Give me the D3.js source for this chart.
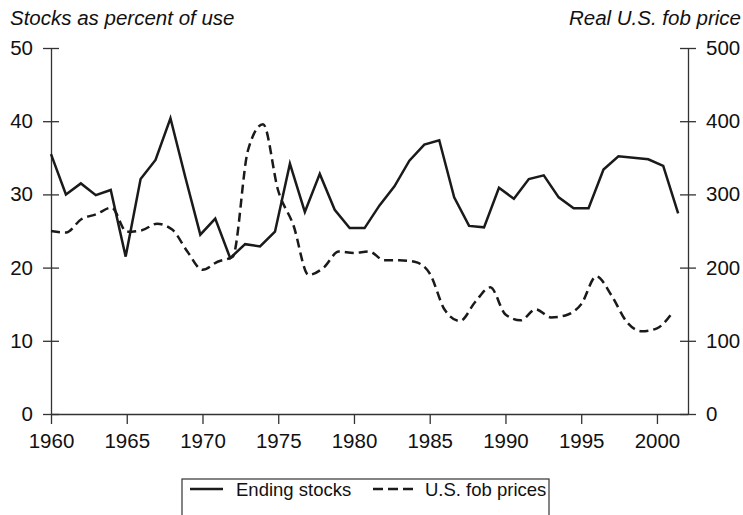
<!DOCTYPE html>
<meta charset="utf-8">
<script src="https://d3js.org/d3.v7.min.js"></script>
<style>
  body { margin: 0; background: #fff; }
  svg { font-family: "Liberation Sans", Arial, Helvetica, sans-serif; }
</style>
<div id="chart"></div>
<script>
// stocks as percent of use, one value per marketing year (43 points, left axis)
var stocks = [35.5, 30.0, 31.5, 29.9, 30.6, 21.5, 32.1, 34.7, 40.4, 32.3,
              24.5, 26.7, 21.3, 23.2, 22.9, 24.9, 34.2, 27.6, 32.8, 27.9,
              25.4, 25.4, 28.5, 31.1, 34.6, 36.8, 37.4, 29.6, 25.7, 25.5,
              30.9, 29.4, 32.1, 32.6, 29.6, 28.1, 28.1, 33.4, 35.2, 35.0,
              34.8, 33.9, 27.4];

// real U.S. fob price by calendar year (right axis)
var priceYears = [1960, 1961, 1962, 1963, 1964, 1965, 1966, 1967, 1968, 1969,
                  1970, 1971, 1972, 1973, 1974, 1975, 1976, 1977, 1978, 1979,
                  1980, 1981, 1982, 1983, 1984, 1985, 1986, 1987, 1988, 1989,
                  1990, 1991, 1992, 1993, 1994, 1995, 1996, 1997, 1998, 1999,
                  2000, 2001];
var prices = [250, 248, 266, 273, 282, 249, 251, 260, 252, 222,
              197, 208, 215, 360, 396, 305, 258, 190, 200, 222,
              220, 222, 210, 210, 208, 192, 142, 127, 153, 173,
              136, 128, 143, 132, 135, 150, 188, 162, 126, 113,
              117, 138];

var xTicks = [1960, 1965, 1970, 1975, 1980, 1985, 1990, 1995, 2000];
var leftTicks = [0, 10, 20, 30, 40, 50];
var rightTicks = [0, 100, 200, 300, 400, 500];

var W = 743, H = 515;
var margin = {top: 48, right: 55, bottom: 101, left: 51};
var width = W - margin.left - margin.right,
    height = H - margin.top - margin.bottom;

var svg = d3.select("#chart").append("svg")
    .attr("width", W)
    .attr("height", H)
  .append("g")
    .attr("transform", "translate(" + margin.left + "," + margin.top + ")");

var x = d3.scaleLinear().domain([1960, 2002.05]).range([0, width]);
// the stocks series runs a bit short of the year grid in the original
var xStocks = d3.scaleLinear().domain([0, stocks.length - 1]).range([x(1960), x(2001.4)]);
var yL = d3.scaleLinear().domain([0, 50]).range([height, 0]);
var yR = d3.scaleLinear().domain([0, 500]).range([height, 0]);

var axisColor = "#333";

// x axis
var gx = svg.append("g")
    .attr("transform", "translate(0," + height + ")")
    .call(d3.axisBottom(x).tickValues(xTicks).tickFormat(d3.format("d"))
      .tickSizeInner(10).tickSizeOuter(0).tickPadding(9));

// left axis, ticks cross the line
var gl = svg.append("g")
    .call(d3.axisLeft(yL).tickValues(leftTicks)
      .tickSizeInner(8).tickSizeOuter(0).tickPadding(10));
gl.selectAll(".tick line").attr("x1", 8);

// right axis
var gr = svg.append("g")
    .attr("transform", "translate(" + width + ",0)")
    .call(d3.axisRight(yR).tickValues(rightTicks)
      .tickSizeInner(8).tickSizeOuter(0).tickPadding(10));
gr.selectAll(".tick line").attr("x1", -8);

[gx, gl, gr].forEach(function(g) {
  g.select(".domain").attr("stroke", axisColor).attr("stroke-width", 1.3);
  g.selectAll(".tick line").attr("stroke", axisColor).attr("stroke-width", 1.3);
  g.selectAll(".tick text")
    .attr("fill", "#111")
    .style("font-size", "20.5px")
    .style("font-family", "'Liberation Sans', Arial, Helvetica, sans-serif");
});

// lines
var stockLine = d3.line()
    .x(function(d, i) { return xStocks(i); })
    .y(function(d) { return yL(d); });

var priceLine = d3.line()
    .curve(d3.curveMonotoneX)
    .x(function(d, i) { return x(priceYears[i]); })
    .y(function(d) { return yR(d); });

svg.append("path")
    .datum(prices)
    .attr("fill", "none")
    .attr("stroke", "#1a1a1a")
    .attr("stroke-width", 2.5)
    .attr("stroke-dasharray", "9,5")
    .attr("d", priceLine);

svg.append("path")
    .datum(stocks)
    .attr("fill", "none")
    .attr("stroke", "#1a1a1a")
    .attr("stroke-width", 2.5)
    .attr("stroke-linejoin", "miter")
    .attr("d", stockLine);

// axis titles
svg.append("text")
    .attr("x", 10 - margin.left)
    .attr("y", 25 - margin.top)
    .style("font-size", "20.5px")
    .style("font-style", "italic")
    .attr("fill", "#111")
    .text("Stocks as percent of use");

svg.append("text")
    .attr("x", 741 - margin.left)
    .attr("y", 25 - margin.top)
    .attr("text-anchor", "end")
    .style("font-size", "20.5px")
    .style("font-style", "italic")
    .attr("fill", "#111")
    .text("Real U.S. fob price");

// legend
var lg = svg.append("g")
    .attr("transform", "translate(" + (182 - margin.left) + "," + (479 - margin.top) + ")");

lg.append("rect")
    .attr("width", 367)
    .attr("height", 40)
    .attr("fill", "#fff")
    .attr("stroke", "#333")
    .attr("stroke-width", 1.2);

lg.append("line")
    .attr("x1", 8).attr("x2", 41)
    .attr("y1", 10).attr("y2", 10)
    .attr("stroke", "#1a1a1a").attr("stroke-width", 2.5);

lg.append("text")
    .attr("x", 54).attr("y", 16.5)
    .style("font-size", "18.5px")
    .attr("fill", "#111")
    .text("Ending stocks");

lg.append("line")
    .attr("x1", 191).attr("x2", 231)
    .attr("y1", 10).attr("y2", 10)
    .attr("stroke", "#1a1a1a").attr("stroke-width", 2.5)
    .attr("stroke-dasharray", "10,5");

lg.append("text")
    .attr("x", 243).attr("y", 16.5)
    .style("font-size", "18.5px")
    .attr("fill", "#111")
    .text("U.S. fob prices");
</script>
